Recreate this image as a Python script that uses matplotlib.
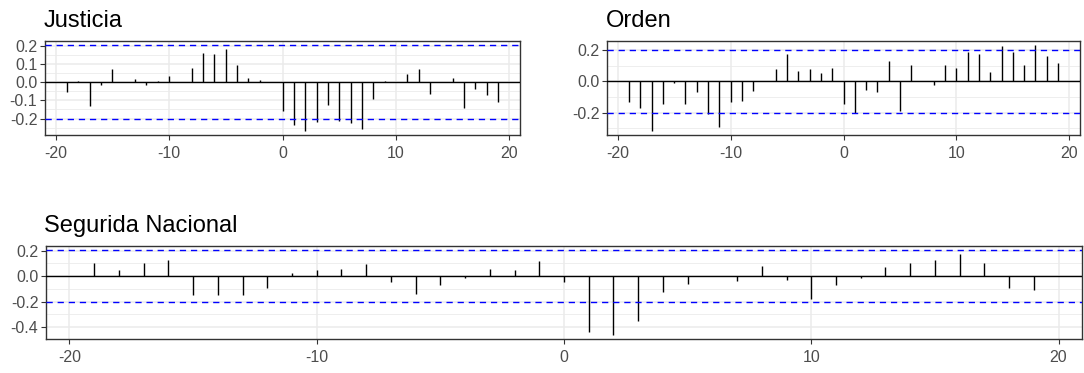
import matplotlib
matplotlib.use("Agg")
import matplotlib.pyplot as plt

plt.rcParams['font.family'] = ['Liberation Sans', 'DejaVu Sans']
plt.rcParams['axes.unicode_minus'] = False

# lags de la correlacion cruzada
lags = list(range(-19, 20))

justicia = [-0.054, 0.009, -0.133, -0.013, 0.072, 0.002, 0.017, -0.013, 0.009, 0.033,
            0.002, 0.081, 0.163, 0.154, 0.183, 0.094, 0.026, 0.011, 0.001,
            -0.156, -0.235, -0.267, -0.220, -0.124, -0.211, -0.226, -0.259, -0.093, 0.009,
            0.001, 0.043, 0.072, -0.063, 0.001, 0.026, -0.141, -0.037, -0.070, -0.109]

orden = [-0.133, -0.170, -0.316, -0.142, -0.013, -0.142, -0.069, -0.209, -0.290, -0.133,
         -0.123, -0.060, 0.001, 0.077, 0.178, 0.069, 0.077, 0.052, 0.088,
         -0.142, -0.200, -0.052, -0.069, 0.133, -0.191, 0.105, 0.001, -0.024, 0.105,
         0.088, 0.189, 0.178, 0.060, 0.226, 0.189, 0.105, 0.232, 0.161, 0.116]

seguridad = [0.106, 0.049, 0.106, 0.127, -0.151, -0.151, -0.151, -0.096, 0.026, 0.049,
             0.060, 0.096, -0.049, -0.138, -0.073, -0.018, 0.060, 0.049, 0.117,
             -0.049, -0.439, -0.462, -0.351, -0.127, -0.062, 0.001, -0.039, 0.083, -0.029,
             -0.184, -0.073, -0.018, 0.073, 0.104, 0.127, 0.171, 0.104, -0.096, -0.106]

limite = 0.204  # 1.96/sqrt(n)

W, H = 1084, 373


def ejes(fig, x0, y0, x1, y1):
    # coordenadas en pixeles (origen arriba a la izquierda)
    return fig.add_axes([x0 / W, 1 - y1 / H, (x1 - x0) / W, (y1 - y0) / H])


def grafico_ccf(ax, titulo, valores, ymaj, ymin_grid):
    lo = min(min(valores), -limite)
    hi = max(max(valores), limite)
    pad = (hi - lo) * 0.05
    ax.set_ylim(lo - pad, hi + pad)
    ax.set_xlim(-20 - 0.95, 20 + 0.95)

    for y in ymin_grid:
        ax.axhline(y, color='#EBEBEB', lw=0.6, zorder=0)
    for y in ymaj:
        ax.axhline(y, color='#EBEBEB', lw=1.1, zorder=0)
    for x in [-20, -10, 0, 10, 20]:
        ax.axvline(x, color='#EBEBEB', lw=1.1, zorder=0)

    ax.vlines(lags, 0, valores, color='black', lw=1.0, zorder=2)
    ax.axhline(0, color='black', lw=1.0, zorder=3)
    ax.axhline(limite, color='#0000FF', lw=1.0, ls=(0, (4.5, 3.5)), zorder=3)
    ax.axhline(-limite, color='#0000FF', lw=1.0, ls=(0, (4.5, 3.5)), zorder=3)

    ax.set_xticks([-20, -10, 0, 10, 20])
    ax.set_yticks(ymaj)
    ax.set_yticklabels([f'{v:.1f}' for v in ymaj])
    ax.tick_params(direction='out', length=3.5, width=0.8, color='#333333',
                   labelsize=11.5, labelcolor='#4D4D4D', pad=2)
    ax.tick_params(axis='x', pad=4.5)
    for s in ax.spines.values():
        s.set_color('#333333')
        s.set_linewidth(1.0)
    ax.set_title(titulo, loc='left', fontsize=17, pad=10, x=-0.002)


fig = plt.figure(figsize=(W / 100, H / 100), dpi=100)
fig.patch.set_facecolor('white')

ax1 = ejes(fig, 45, 41, 520, 135)
grafico_ccf(ax1, 'Justicia', justicia,
            [-0.2, -0.1, 0.0, 0.1, 0.2], [-0.25, -0.15, -0.05, 0.05, 0.15])

ax2 = ejes(fig, 607, 41, 1080, 135)
grafico_ccf(ax2, 'Orden', orden,
            [-0.2, 0.0, 0.2], [-0.3, -0.1, 0.1])

ax3 = ejes(fig, 46, 246, 1082, 339)
grafico_ccf(ax3, 'Segurida Nacional', seguridad,
            [-0.4, -0.2, 0.0, 0.2], [-0.5, -0.3, -0.1, 0.1])

fig.savefig('out.png', dpi=100, facecolor='white')
plt.close(fig)
